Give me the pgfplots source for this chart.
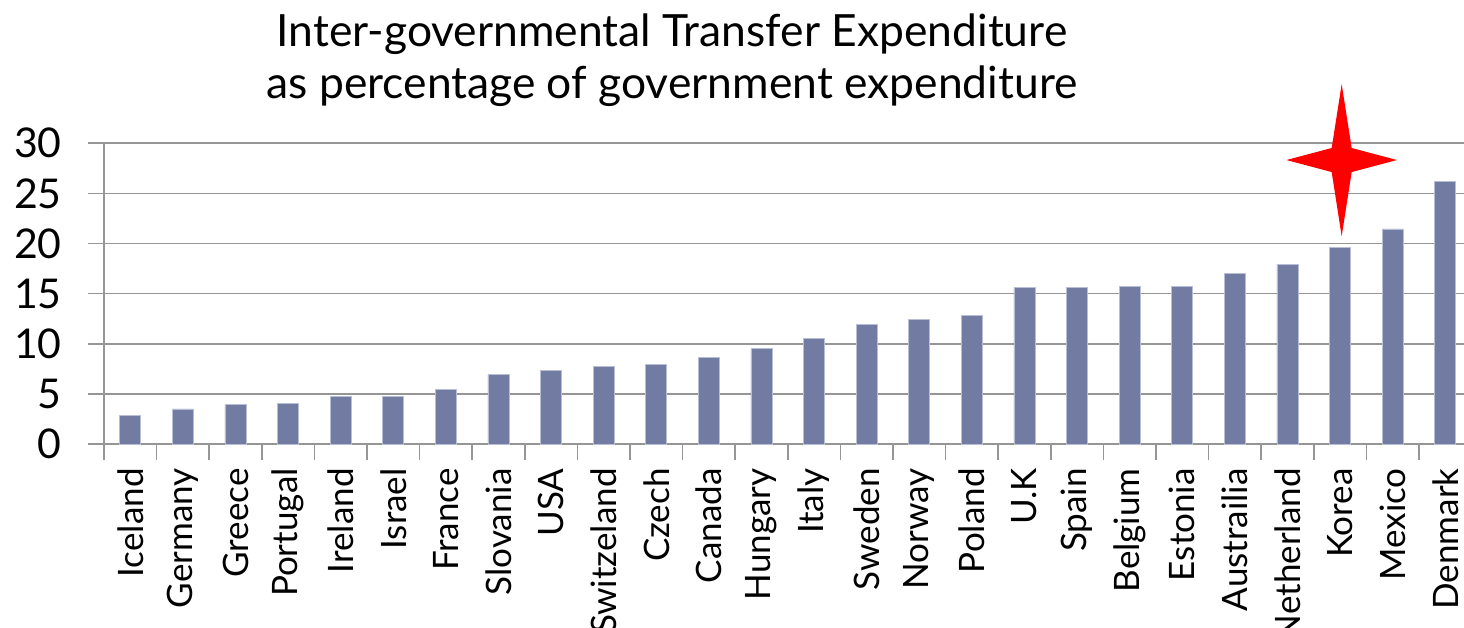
\documentclass[border=0pt]{standalone}
\usepackage{pgfplots}
\pgfplotsset{compat=1.18}
\usepackage{fontspec}
\setmainfont{Lato}
\definecolor{barc}{RGB}{114,123,162}
\definecolor{baredge}{RGB}{185,190,215}
\definecolor{gridc}{RGB}{150,150,150}
\begin{document}
\begin{tikzpicture}
\begin{axis}[
  scale only axis, width=683.8pt, height=150.35pt,
  xmin=-0.5, xmax=25.5, ymin=0, ymax=30,
  clip=false,
  axis x line*=bottom, axis y line*=left,
  axis line style={gridc, line width=0.8pt, -},
  ytick={0,5,...,30},
  ymajorgrids, grid style={gridc, line width=0.8pt},
  tick align=outside,
  major tick length=8pt,
  tick style={gridc, line width=0.8pt},
  xtick={-0.5,0.5,...,25.5},
  x tick label as interval,
  xticklabels={Iceland,Germany,Greece,Portugal,Ireland,Israel,France,Slovania,USA,Switzeland,Czech,Canada,Hungary,Italy,Sweden,Norway,Poland,U.K,Spain,Belgium,Estonia,Austrailia,Netherland,Korea,Mexico,Denmark},
  xticklabel style={rotate=90, anchor=east, inner sep=0pt, xshift=-4pt, font=\fontsize{17.5}{20}\selectfont},
  yticklabel style={anchor=east, inner sep=0pt, xshift=-13pt, font=\fontsize{20.5}{22}\selectfont},
  /pgf/number format/assume math mode=true,
  ybar, bar width=0.4,
]
\addplot[fill=barc, draw=baredge, line width=0.4pt] coordinates {
(0,2.85) (1,3.5) (2,3.9) (3,4.0) (4,4.75) (5,4.75) (6,5.4) (7,6.93) (8,7.33) (9,7.7)
(10,7.97) (11,8.6) (12,9.5) (13,10.5) (14,11.95) (15,12.45) (16,12.85) (17,15.65) (18,15.65)
(19,15.75) (20,15.75) (21,17.05) (22,17.95) (23,19.6) (24,21.45) (25,26.2)};
\addplot[ybar=0pt, fill=red, draw=none, sharp plot] coordinates {
(23.03,35.9) (23.22,29.53) (24.08,28.33) (23.22,27.13) (23.03,20.73) (22.84,27.13) (21.98,28.33) (22.84,29.53)} -- cycle;
\node[anchor=north, inner sep=0pt, align=center, font=\fontsize{22.2}{26}\selectfont]
  at (rel axis cs:0.4153,1.432) {Inter-governmental Transfer Expenditure\\as percentage of government expenditure};
\coordinate (BL) at (rel axis cs:-0.07605,-0.61191);
\coordinate (TR) at (rel axis cs:0.99444,1.47655);
\end{axis}
\pgfresetboundingbox
\useasboundingbox (BL) rectangle (TR);
\end{tikzpicture}
\end{document}
